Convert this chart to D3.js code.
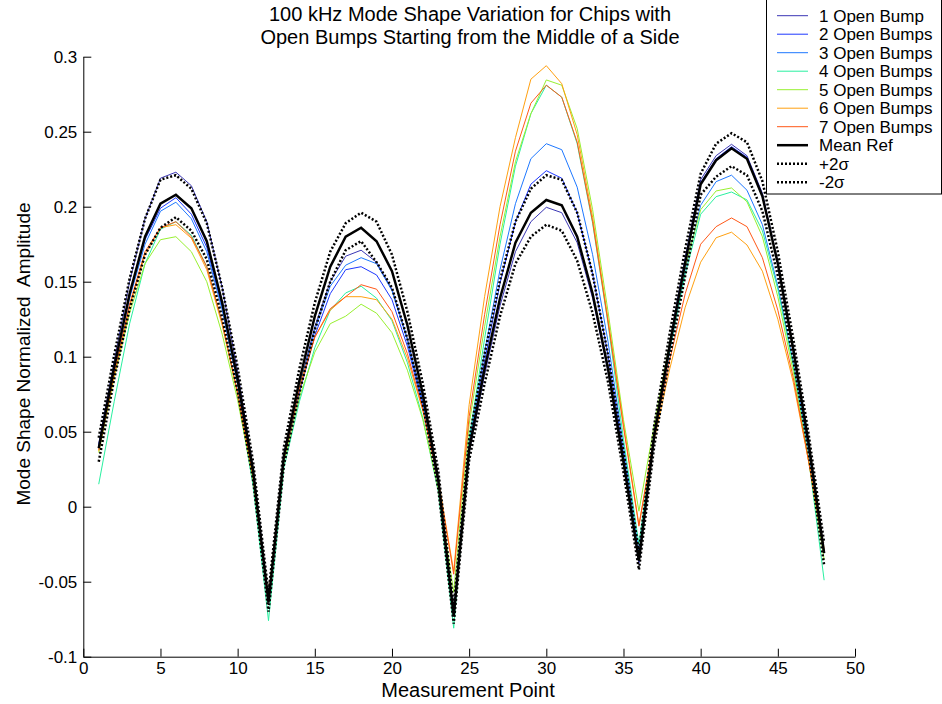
<!DOCTYPE html>
<html lang="en">
	<head>
		<meta charset="UTF-8">
		<title>100 kHz Mode Shape Variation</title>
		<style>
			body, html {
				margin: 0;
				padding: 0;
				background-color: #ffffff;
			}
			text {
				font-family: "Liberation Sans", Arial, sans-serif;
				fill: #000;
			}
		</style>
	</head>
	<body>
		<svg id="svg" width="942" height="704"></svg>

		<script src="https://d3js.org/d3.v7.min.js"></script>
		<script>
			// measurement points 1..48
			const points = d3.range(1, 49)

			const xTicks = [0, 5, 10, 15, 20, 25, 30, 35, 40, 45, 50]
			const yTicks = [-0.1, -0.05, 0, 0.05, 0.1, 0.15, 0.2, 0.25, 0.3]

			const seriesNames = ['1 Open Bump', '2 Open Bumps', '3 Open Bumps', '4 Open Bumps', '5 Open Bumps', '6 Open Bumps', '7 Open Bumps']
			const seriesColors = ['#3a36b4', '#1e38ff', '#1e78ff', '#28f0a0', '#98f030', '#ffa010', '#ff5818']

			const bump1 = [
				0.042, 0.097, 0.150, 0.192, 0.219, 0.223, 0.214, 0.190, 0.146, 0.090, 0.026, -0.062,
				0.032, 0.080, 0.120, 0.150, 0.167, 0.171, 0.163, 0.145, 0.112, 0.070, 0.016, -0.072,
				0.036, 0.088, 0.134, 0.170, 0.190, 0.1996, 0.196, 0.176, 0.139, 0.090, 0.029, -0.038,
				0.050, 0.110, 0.166, 0.218, 0.234, 0.2416, 0.234, 0.209, 0.163, 0.106, 0.042, -0.030]
			const bump2 = [
				0.041, 0.093, 0.141, 0.178, 0.199, 0.206, 0.195, 0.173, 0.133, 0.083, 0.023, -0.063,
				0.031, 0.076, 0.114, 0.142, 0.158, 0.160, 0.1545, 0.138, 0.107, 0.067, 0.015, -0.072,
				0.040, 0.097, 0.149, 0.190, 0.215, 0.224, 0.219, 0.196, 0.155, 0.101, 0.035, -0.036,
				0.049, 0.109, 0.165, 0.216, 0.232, 0.240, 0.233, 0.208, 0.162, 0.105, 0.041, -0.030]
			const bump3 = [
				0.040, 0.092, 0.139, 0.175, 0.197, 0.203, 0.192, 0.170, 0.131, 0.082, 0.022, -0.063,
				0.032, 0.078, 0.118, 0.147, 0.161, 0.166, 0.162, 0.144, 0.111, 0.069, 0.016, -0.071,
				0.043, 0.103, 0.158, 0.202, 0.232, 0.242, 0.238, 0.213, 0.168, 0.110, 0.040, -0.030,
				0.046, 0.104, 0.158, 0.201, 0.2167, 0.221, 0.211, 0.188, 0.147, 0.096, 0.037, -0.031]
			const bump4 = [
				0.015, 0.070, 0.122, 0.162, 0.185, 0.190, 0.181, 0.160, 0.122, 0.075, 0.014, -0.076,
				0.026, 0.070, 0.106, 0.131, 0.1425, 0.147, 0.139, 0.124, 0.096, 0.059, 0.010, -0.081,
				0.045, 0.112, 0.175, 0.227, 0.262, 0.281, 0.273, 0.242, 0.189, 0.122, 0.045, -0.025,
				0.050, 0.105, 0.155, 0.195, 0.2067, 0.2098, 0.2045, 0.184, 0.145, 0.094, 0.032, -0.049]
			const bump5 = [
				0.036, 0.086, 0.129, 0.162, 0.178, 0.180, 0.170, 0.150, 0.115, 0.071, 0.018, -0.062,
				0.030, 0.073, 0.103, 0.122, 0.127, 0.135, 0.129, 0.116, 0.091, 0.058, 0.012, -0.057,
				0.055, 0.120, 0.180, 0.230, 0.262, 0.2845, 0.281, 0.252, 0.198, 0.130, 0.058, -0.003,
				0.055, 0.110, 0.160, 0.198, 0.2105, 0.2125, 0.2033, 0.180, 0.140, 0.090, 0.030, -0.035]
			const bump6 = [
				0.037, 0.087, 0.133, 0.168, 0.186, 0.188, 0.179, 0.158, 0.121, 0.075, 0.020, -0.060,
				0.034, 0.080, 0.113, 0.131, 0.140, 0.140, 0.138, 0.125, 0.099, 0.064, 0.018, -0.043,
				0.068, 0.140, 0.200, 0.246, 0.285, 0.294, 0.282, 0.248, 0.193, 0.125, 0.055, -0.012,
				0.045, 0.092, 0.133, 0.163, 0.1793, 0.183, 0.1745, 0.157, 0.125, 0.083, 0.030, -0.028]
			const bump7 = [
				0.038, 0.089, 0.135, 0.170, 0.186, 0.190, 0.180, 0.160, 0.123, 0.076, 0.020, -0.063,
				0.032, 0.078, 0.113, 0.132, 0.140, 0.148, 0.145, 0.130, 0.102, 0.065, 0.017, -0.045,
				0.060, 0.128, 0.188, 0.237, 0.269, 0.281, 0.273, 0.243, 0.190, 0.123, 0.053, -0.013,
				0.048, 0.098, 0.142, 0.175, 0.1867, 0.1925, 0.1867, 0.166, 0.131, 0.086, 0.030, -0.030]

			const meanRef = [
				0.039, 0.093, 0.142, 0.180, 0.202, 0.208, 0.199, 0.177, 0.136, 0.085, 0.024, -0.064,
				0.034, 0.084, 0.127, 0.160, 0.180, 0.186, 0.177, 0.157, 0.121, 0.075, 0.018, -0.073,
				0.038, 0.092, 0.139, 0.176, 0.196, 0.2045, 0.201, 0.180, 0.142, 0.092, 0.030, -0.036,
				0.048, 0.108, 0.163, 0.215, 0.231, 0.239, 0.232, 0.207, 0.162, 0.105, 0.042, -0.031]
			const plus2s = [
				0.046, 0.101, 0.152, 0.192, 0.218, 0.221, 0.212, 0.189, 0.146, 0.093, 0.030, -0.058,
				0.040, 0.092, 0.136, 0.170, 0.189, 0.196, 0.190, 0.168, 0.130, 0.082, 0.024, -0.067,
				0.045, 0.102, 0.151, 0.190, 0.212, 0.221, 0.218, 0.196, 0.155, 0.101, 0.037, -0.030,
				0.055, 0.116, 0.172, 0.222, 0.242, 0.249, 0.243, 0.217, 0.170, 0.112, 0.048, -0.024]
			const minus2s = [
				0.030, 0.085, 0.132, 0.168, 0.186, 0.193, 0.184, 0.165, 0.126, 0.077, 0.018, -0.070,
				0.028, 0.076, 0.118, 0.150, 0.171, 0.177, 0.163, 0.146, 0.112, 0.068, 0.012, -0.078,
				0.031, 0.082, 0.127, 0.162, 0.180, 0.188, 0.184, 0.164, 0.129, 0.083, 0.023, -0.042,
				0.041, 0.100, 0.154, 0.208, 0.220, 0.227, 0.221, 0.197, 0.154, 0.098, 0.036, -0.039]

			const bumps = [bump1, bump2, bump3, bump4, bump5, bump6, bump7]

			const svg = d3.select('#svg')

			const x = d3.scaleLinear().domain([0, 50]).range([83.3, 855])
			const y = d3.scaleLinear().domain([-0.1, 0.3]).range([656.7, 56.7])

			const line = d3.line()
				.x((d, i) => x(points[i]))
				.y(d => y(d))

			// axes (ticks point inward, MATLAB style)
			svg.append('g')
				.attr('transform', `translate(0,${y(-0.1)})`)
				.call(d3.axisBottom(x).tickValues(xTicks).tickSizeInner(-8).tickSizeOuter(0).tickPadding(5).tickFormat(d3.format('d')))
			svg.append('g')
				.attr('transform', `translate(${x(0)},0)`)
				.call(d3.axisLeft(y).tickValues(yTicks).tickSizeInner(-8).tickSizeOuter(0).tickPadding(6).tickFormat(d => String(+d.toFixed(2))))

			svg.selectAll('.tick text').style('font-size', '17px').style('font-family', '"Liberation Sans", Arial, sans-serif')
			svg.selectAll('.domain, .tick line').attr('stroke', '#000')

			// colored series
			svg.selectAll('path.bump')
				.data(bumps)
				.enter()
				.append('path')
				.attr('class', 'bump')
				.attr('d', line)
				.attr('fill', 'none')
				.attr('stroke', (d, i) => seriesColors[i])
				.attr('stroke-width', 1)

			svg.append('path')
				.attr('d', line(meanRef))
				.attr('fill', 'none')
				.attr('stroke', '#000')
				.attr('stroke-width', 2.5)

			svg.selectAll('path.sigma')
				.data([plus2s, minus2s])
				.enter()
				.append('path')
				.attr('class', 'sigma')
				.attr('d', line)
				.attr('fill', 'none')
				.attr('stroke', '#000')
				.attr('stroke-width', 2.5)
				.attr('stroke-dasharray', '2,2')

			// title and labels
			svg.append('text')
				.attr('x', 470).attr('y', 21)
				.attr('text-anchor', 'middle')
				.style('font-size', '20px')
				.text('100 kHz Mode Shape Variation for Chips with')
			svg.append('text')
				.attr('x', 470).attr('y', 44)
				.attr('text-anchor', 'middle')
				.style('font-size', '20px')
				.text('Open Bumps Starting from the Middle of a Side')
			svg.append('text')
				.attr('x', 468).attr('y', 697)
				.attr('text-anchor', 'middle')
				.style('font-size', '20px')
				.text('Measurement Point')
			svg.append('text')
				.attr('transform', 'translate(30,354) rotate(-90)')
				.attr('text-anchor', 'middle')
				.style('font-size', '19px')
				.style('white-space', 'pre')
				.text('Mode Shape Normalized  Amplitude')

			// legend
			const legendItems = seriesNames.map((n, i) => ({ name: n, color: seriesColors[i], width: 1, dash: null }))
				.concat([
					{ name: 'Mean Ref', color: '#000', width: 2.5, dash: null },
					{ name: '+2σ', color: '#000', width: 2.5, dash: '2,2' },
					{ name: '-2σ', color: '#000', width: 2.5, dash: '2,2' }
				])

			const legend = svg.append('g')
			legend.append('rect')
				.attr('x', 766.5).attr('y', -0.5)
				.attr('width', 175).attr('height', 194.5)
				.attr('fill', '#fff')
				.attr('stroke', '#000')
				.attr('stroke-width', 1)

			const rows = legend.selectAll('g.row')
				.data(legendItems)
				.enter()
				.append('g')
				.attr('class', 'row')
				.attr('transform', (d, i) => `translate(0,${15.7 + i * 18.5})`)
			rows.append('line')
				.attr('x1', 777).attr('x2', 808)
				.attr('stroke', d => d.color)
				.attr('stroke-width', d => d.width)
				.attr('stroke-dasharray', d => d.dash)
			rows.append('text')
				.attr('x', 819)
				.attr('dy', '0.35em')
				.style('font-size', '17px')
				.text(d => d.name)
		</script>
	</body>
</html>
